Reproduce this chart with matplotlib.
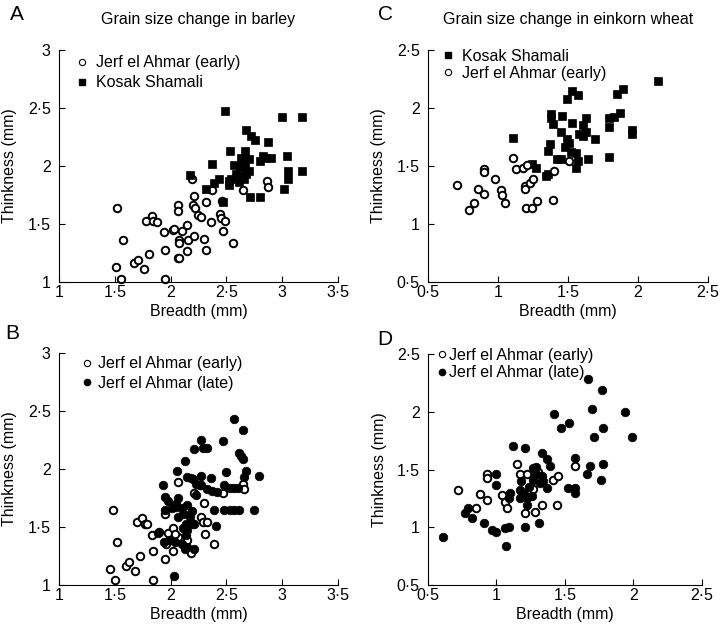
import matplotlib
matplotlib.use('Agg')
import matplotlib.pyplot as plt
from matplotlib.ticker import FuncFormatter
from matplotlib.lines import Line2D

plt.rcParams['font.family'] = ['Liberation Sans', 'DejaVu Sans']
plt.rcParams['font.size'] = 11.5

# ---- A: barley, Jerf el Ahmar (early) vs Kosak Shamali ----
a_early_x = [1.52, 1.57, 1.56, 1.51, 1.67, 1.71, 1.76, 1.81, 1.78, 1.83, 1.84, 1.88,
             1.95, 1.95, 1.94, 2.02, 2.03, 2.07, 2.07, 2.08, 2.08, 2.07, 2.08, 2.10,
             2.15, 2.15, 2.16, 2.21, 2.20, 2.22, 2.21, 2.19, 2.25, 2.27, 2.30, 2.32,
             2.32, 2.36, 2.37, 2.44, 2.45, 2.47, 2.49, 2.46, 2.56, 2.65, 2.86, 2.87]
a_early_y = [1.64, 1.36, 1.03, 1.13, 1.16, 1.19, 1.11, 1.24, 1.53, 1.57, 1.53, 1.52,
             1.28, 1.03, 1.43, 1.45, 1.46, 1.66, 1.61, 1.36, 1.34, 1.21, 1.21, 1.44,
             1.49, 1.27, 1.36, 1.40, 1.66, 1.64, 1.74, 1.89, 1.58, 1.56, 1.37, 1.28,
             1.69, 1.52, 1.79, 1.59, 1.55, 1.44, 1.53, 1.70, 1.34, 1.79, 1.87, 1.82]
a_kosak_x = [2.49, 2.17, 2.32, 2.37, 2.39, 2.43, 2.47, 2.52, 2.53, 2.54, 2.57, 2.59,
             2.61, 2.63, 2.64, 2.67, 2.67, 2.68, 2.70, 2.71, 2.68, 2.72, 2.76, 2.80,
             2.80, 2.83, 2.85, 2.87, 2.90, 3.00, 3.18, 3.04, 3.05, 3.05, 3.18, 3.02,
             2.62, 2.66, 2.70, 2.52, 2.64]
a_kosak_y = [2.47, 1.92, 1.80, 2.02, 1.85, 1.89, 1.69, 1.84, 2.13, 1.89, 2.01, 1.93,
             1.86, 2.07, 1.91, 2.13, 1.99, 1.93, 2.06, 1.73, 2.31, 2.26, 2.22, 1.73,
             2.04, 2.09, 2.07, 2.21, 2.07, 2.42, 2.42, 2.09, 1.96, 1.89, 1.96, 1.80,
             1.99, 1.89, 1.96, 1.87, 2.03]

# ---- B: barley, Jerf el Ahmar early vs late ----
b_early_x = [1.48, 1.52, 1.46, 1.50, 1.60, 1.63, 1.68, 1.73, 1.70, 1.74, 1.77, 1.79,
             1.83, 1.84, 1.84, 1.90, 1.95, 1.96, 1.98, 2.02, 2.02, 2.07, 2.07, 1.95,
             2.15, 2.18, 2.15, 2.21, 2.26, 2.27, 2.29, 2.33, 2.30, 2.31, 2.39, 2.47,
             2.65, 2.66, 2.04]
b_early_y = [1.65, 1.37, 1.14, 1.04, 1.16, 1.20, 1.12, 1.25, 1.54, 1.58, 1.53, 1.53,
             1.43, 1.29, 1.04, 1.46, 1.22, 1.35, 1.45, 1.29, 1.49, 1.89, 1.41, 1.61,
             1.39, 1.28, 1.66, 1.79, 1.86, 1.59, 1.54, 1.54, 1.71, 1.44, 1.35, 1.79,
             1.87, 1.83, 1.44]
b_late_x = [2.57, 2.65, 2.27, 2.47, 2.29, 2.33, 2.21, 2.61, 2.63, 2.65, 2.13, 2.06,
            2.50, 2.68, 2.66, 2.79, 2.15, 2.18, 2.20, 2.27, 2.36, 1.93, 2.23, 2.27,
            2.33, 2.37, 2.42, 2.48, 2.53, 2.57, 2.60, 1.95, 1.98, 2.07, 2.05, 2.23,
            1.95, 2.01, 2.05, 2.10, 2.15, 2.19, 2.11, 2.07, 2.17, 2.14, 2.20, 2.11,
            2.15, 2.14, 2.21, 1.89, 1.94, 1.99, 2.04, 2.10, 2.15, 2.21, 2.13, 2.41,
            2.39, 2.48, 2.53, 2.57, 2.61, 2.75, 2.03]
b_late_y = [2.43, 2.34, 2.25, 2.24, 2.18, 2.18, 2.17, 2.14, 2.11, 2.09, 2.07, 1.98,
            1.97, 1.98, 1.93, 1.94, 1.93, 1.92, 1.91, 1.94, 1.92, 1.86, 1.87, 1.86,
            1.83, 1.81, 1.80, 1.86, 1.84, 1.84, 1.84, 1.76, 1.72, 1.75, 1.70, 1.78,
            1.65, 1.66, 1.67, 1.66, 1.69, 1.64, 1.61, 1.59, 1.59, 1.53, 1.53, 1.49,
            1.47, 1.43, 1.53, 1.45, 1.37, 1.39, 1.37, 1.35, 1.33, 1.31, 1.31, 1.51,
            1.65, 1.65, 1.65, 1.65, 1.65, 1.65, 1.08]

# ---- C: einkorn, Kosak Shamali vs Jerf el Ahmar (early) ----
c_kosak_x = [1.11, 1.38, 1.38, 1.39, 1.46, 1.49, 1.53, 1.57, 1.53, 1.45, 1.48, 1.49,
             1.51, 1.52, 1.56, 1.37, 1.36, 1.42, 1.45, 1.57, 1.56, 1.61, 1.63, 1.61,
             1.63, 1.58, 1.64, 1.69, 1.79, 1.79, 1.83, 1.87, 1.85, 1.89, 1.96, 1.96,
             2.14, 1.79, 1.24, 1.27, 1.34, 1.36]
c_kosak_y = [1.74, 1.95, 1.91, 1.86, 1.93, 2.08, 2.15, 2.11, 1.87, 1.79, 1.66, 1.73,
             1.70, 1.62, 1.61, 1.69, 1.63, 1.56, 1.56, 1.54, 1.48, 1.76, 1.79, 1.85,
             1.91, 1.78, 1.56, 1.73, 1.91, 1.84, 1.92, 1.96, 2.12, 2.16, 1.81, 1.78,
             2.23, 1.58, 1.52, 1.48, 1.41, 1.43]
c_early_x = [0.71, 0.79, 0.83, 0.86, 0.90, 0.90, 0.90, 0.98, 1.02, 1.03, 1.05, 1.11,
             1.13, 1.18, 1.19, 1.19, 1.20, 1.24, 1.28, 1.39, 1.23, 1.25, 1.40, 1.51,
             1.21]
c_early_y = [1.34, 1.12, 1.18, 1.30, 1.47, 1.45, 1.26, 1.39, 1.29, 1.25, 1.18, 1.57,
             1.47, 1.48, 1.33, 1.30, 1.14, 1.14, 1.20, 1.21, 1.35, 1.39, 1.46, 1.54,
             1.51]

# ---- D: einkorn, Jerf el Ahmar early vs late ----
d_early_x = [0.72, 0.88, 0.93, 0.93, 0.93, 0.85, 1.04, 1.06, 1.08, 1.15, 1.17, 1.22,
             1.21, 1.28, 1.24, 1.27, 1.33, 1.41, 1.45, 1.44, 1.57, 1.30]
d_early_y = [1.32, 1.29, 1.24, 1.46, 1.43, 1.17, 1.28, 1.22, 1.17, 1.55, 1.46, 1.46,
             1.12, 1.13, 1.32, 1.33, 1.19, 1.41, 1.44, 1.19, 1.53, 1.48]
d_late_x = [0.61, 0.79, 0.77, 0.82, 0.91, 0.97, 1.00, 1.06, 1.09, 1.07, 1.00, 1.00,
            1.10, 1.09, 1.12, 1.21, 1.18, 1.17, 1.20, 1.17, 1.22, 1.22, 1.26, 1.21,
            1.31, 1.27, 1.29, 1.33, 1.33, 1.32, 1.34, 1.37, 1.39, 1.37, 1.42, 1.47,
            1.53, 1.52, 1.57, 1.57, 1.57, 1.67, 1.77, 1.70, 1.94, 1.78, 1.71, 1.99,
            1.68, 1.78, 1.66, 1.76, 1.29, 1.27, 1.24]
d_late_y = [0.92, 1.17, 1.12, 1.08, 1.04, 0.98, 0.96, 0.99, 1.00, 0.84, 1.46, 1.37,
            1.30, 1.25, 1.70, 1.69, 1.40, 1.32, 1.29, 1.25, 1.25, 1.19, 1.27, 1.00,
            1.04, 1.51, 1.52, 1.64, 1.44, 1.38, 1.40, 1.59, 1.53, 1.34, 1.98, 1.86,
            1.90, 1.34, 1.60, 1.34, 1.30, 2.28, 2.19, 2.02, 2.00, 1.86, 1.78, 1.78,
            1.53, 1.55, 1.46, 1.41, 1.46, 1.41, 1.35]

barley_ticks = [1, 1.5, 2, 2.5, 3, 3.5]
barley_yticks = [1, 1.5, 2, 2.5, 3]
einkorn_ticks = [0.5, 1, 1.5, 2, 2.5]


def dot_fmt(v, pos):
    return ('%g' % v).replace('.', '\u00b7')


def style_axes(ax, xticks, yticks):
    ax.set_xlim(xticks[0], xticks[-1])
    ax.set_ylim(yticks[0], yticks[-1])
    ax.set_xticks(xticks)
    ax.set_yticks(yticks)
    ax.xaxis.set_major_formatter(FuncFormatter(dot_fmt))
    ax.yaxis.set_major_formatter(FuncFormatter(dot_fmt))
    for s in ['top', 'right']:
        ax.spines[s].set_visible(False)
    for s in ['left', 'bottom']:
        ax.spines[s].set_linewidth(0.8)
    ax.tick_params(direction='in', length=4, width=0.8)
    ax.tick_params(axis='x', pad=2)
    ax.tick_params(axis='y', pad=6)
    ax.set_xlabel('Breadth (mm)', labelpad=3)
    ax.set_ylabel('Thinkness (mm)')
    ax.yaxis.set_label_coords(-0.15, 0.5)


open_c = dict(marker='o', ls='none', mfc='white', mec='black', ms=5.4, mew=1.4, clip_on=False)
fill_c = dict(marker='o', ls='none', mfc='black', mec='black', ms=6.2, mew=0.5, clip_on=False)
fill_s = dict(marker='s', ls='none', mfc='black', mec='black', ms=6.2, mew=0.5, clip_on=False)

leg_open = Line2D([], [], marker='o', ls='none', mfc='white', mec='black', ms=4.5, mew=0.8)
leg_fill = Line2D([], [], marker='o', ls='none', mfc='black', mec='black', ms=4.5)
leg_sq = Line2D([], [], marker='s', ls='none', mfc='black', mec='black', ms=4.5)

fig = plt.figure(figsize=(7.2, 6.3), dpi=100)
axA = fig.add_axes([0.0819, 0.5524, 0.3875, 0.3682])
axC = fig.add_axes([0.5944, 0.5524, 0.3889, 0.3682])
axB = fig.add_axes([0.0819, 0.0714, 0.3875, 0.3683])
axD = fig.add_axes([0.5944, 0.0714, 0.3806, 0.3667])

# A
axA.plot(a_early_x, a_early_y, **open_c)
axA.plot(a_kosak_x, a_kosak_y, **fill_s)
style_axes(axA, barley_ticks, barley_yticks)
axA.legend([leg_open, leg_sq], ['Jerf el Ahmar (early)', 'Kosak Shamali'],
           loc='upper left', bbox_to_anchor=(0.06, 0.978), frameon=False,
           borderpad=0, borderaxespad=0, handlelength=0.8, handletextpad=0.45,
           labelspacing=0.33)
axA.text(0.5, 1.13, 'Grain size change in barley', transform=axA.transAxes,
         ha='center', va='center')

# B
axB.plot(b_early_x, b_early_y, **open_c)
axB.plot(b_late_x, b_late_y, **fill_c)
style_axes(axB, barley_ticks, barley_yticks)
axB.legend([leg_open, leg_fill], ['Jerf el Ahmar (early)', 'Jerf el Ahmar (late)'],
           loc='upper left', bbox_to_anchor=(0.085, 0.986), frameon=False,
           borderpad=0, borderaxespad=0, handlelength=0.6, handletextpad=0.35,
           labelspacing=0.27)

# C
axC.plot(c_kosak_x, c_kosak_y, **fill_s)
axC.plot(c_early_x, c_early_y, **open_c)
style_axes(axC, einkorn_ticks, einkorn_ticks)
axC.legend([leg_sq, leg_open], ['Kosak Shamali', 'Jerf el Ahmar (early)'],
           loc='upper left', bbox_to_anchor=(0.05, 1.005), frameon=False,
           borderpad=0, borderaxespad=0, handlelength=0.8, handletextpad=0.45,
           labelspacing=0.12)
axC.text(0.5, 1.13, 'Grain size change in einkorn wheat', transform=axC.transAxes,
         ha='center', va='center')

# D
axD.plot(d_early_x, d_early_y, **open_c)
axD.plot(d_late_x, d_late_y, **fill_c)
style_axes(axD, einkorn_ticks, einkorn_ticks)
axD.legend([leg_open, leg_fill], ['Jerf el Ahmar (early)', 'Jerf el Ahmar (late)'],
           loc='upper left', bbox_to_anchor=(0.035, 1.027), frameon=False,
           borderpad=0, borderaxespad=0, handlelength=0.5, handletextpad=0.2,
           labelspacing=0.17)

for lab, x, y in [('A', 10, 20), ('C', 378, 20), ('B', 5, 339), ('D', 377, 345)]:
    fig.text(x / 720, 1 - y / 630, lab, fontsize=15, va='baseline', ha='left')

fig.savefig('out.png', dpi=100)
